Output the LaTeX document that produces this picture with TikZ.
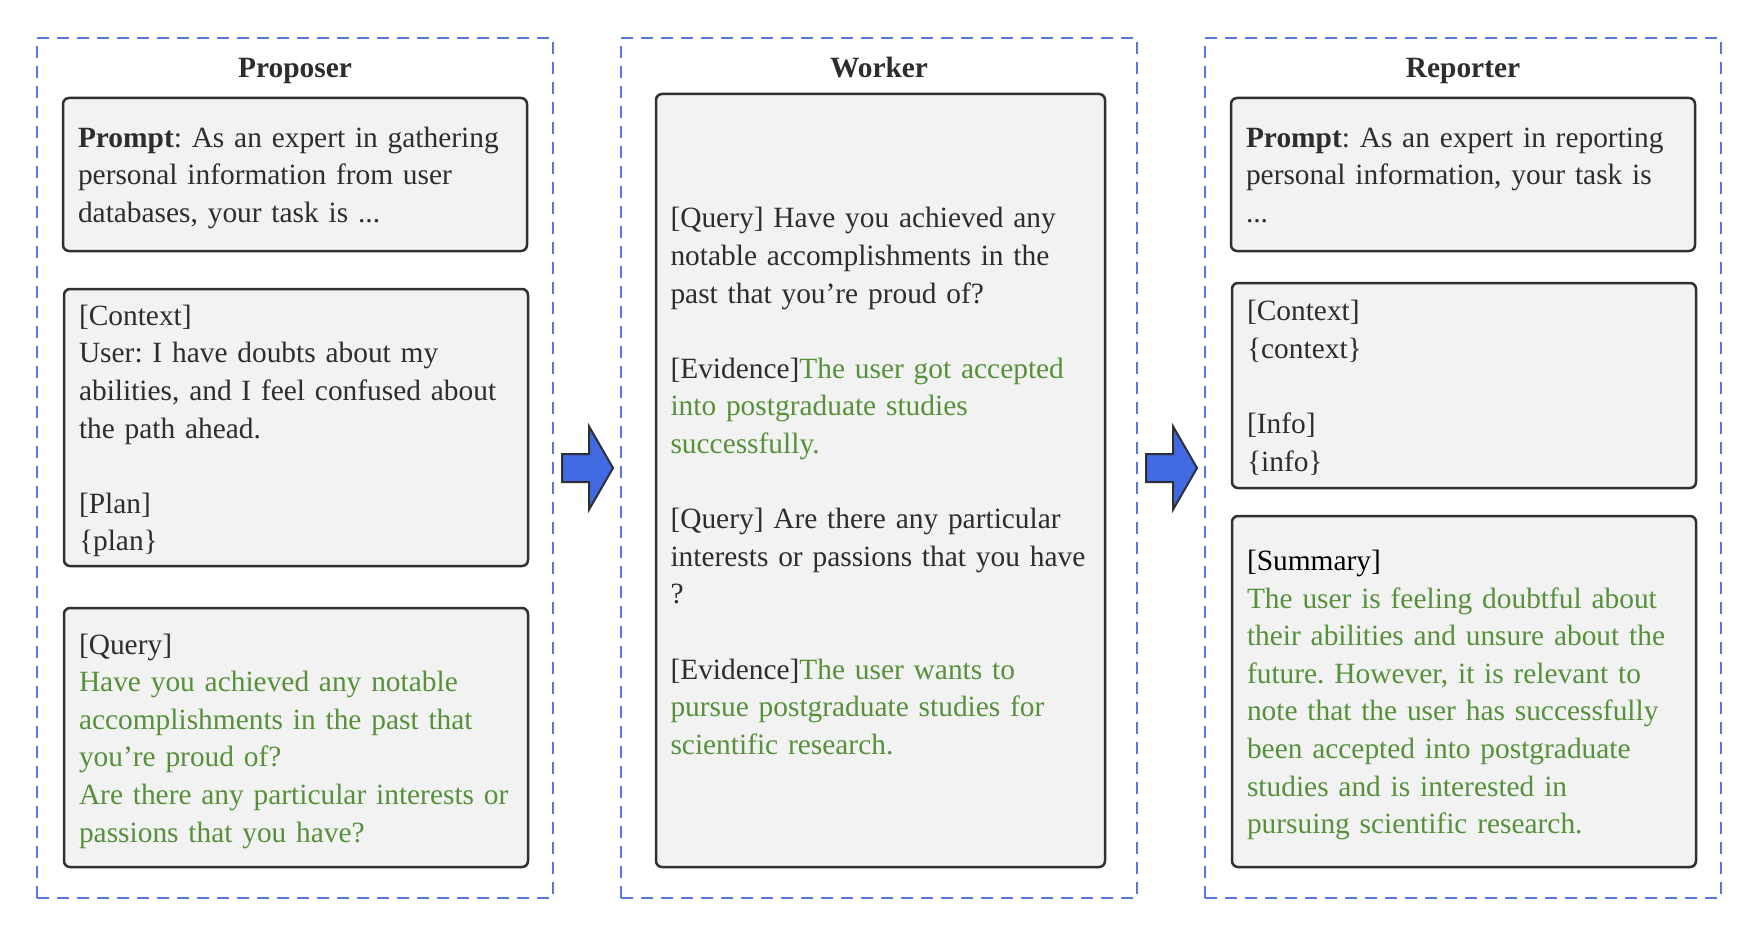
\documentclass[tikz,border=0pt]{standalone}
\usepackage{fontspec}
\setmainfont{Liberation Serif}
\usetikzlibrary{positioning, calc, shapes.arrows}

\definecolor{frameblue}{RGB}{85,120,222}
\definecolor{boxfill}{RGB}{242,242,242}
\definecolor{boxline}{RGB}{45,48,52}
\definecolor{txtgray}{RGB}{45,45,45}
\definecolor{evgreen}{RGB}{86,145,58}
\definecolor{arrowblue}{RGB}{65,105,225}

\newcommand{\cardfont}{\fontsize{29.4pt}{37.6pt}\selectfont\frenchspacing\hyphenpenalty=10000\relax}

\tikzset{
    stage/.style={draw=frameblue, line width=2.2pt, dash pattern=on 12pt off 8pt,
        minimum width=516pt, minimum height=860pt},
    stagetitle/.style={font=\fontsize{29.4pt}{36pt}\selectfont\bfseries, text=txtgray,
        anchor=base},
    card/.style={draw=boxline, fill=boxfill, line width=2.5pt, rounded corners=6pt,
        text=txtgray, align=left, inner xsep=15pt, inner ysep=2pt, text width=434pt,
        minimum width=464pt, font=\cardfont,
        execute at begin node={\rule{0pt}{28pt}},
        execute at end node={\rule[-7pt]{0pt}{7pt}}},
    bigarrow/.style={single arrow, draw=boxline, fill=arrowblue, line width=2pt,
        inner sep=13pt, single arrow head extend=27.5pt, single arrow tip angle=120,
        minimum height=51pt, xshift=-3.5pt},
}

\begin{document}
\begin{tikzpicture}[x=1pt, y=-1pt]
    \useasboundingbox (0,0) rectangle (1758,936);

    % three stages
    \node[stage] (propFrame) at (295,468) {};
    \node[stage] (workFrame) at (879,468) {};
    \node[stage] (repFrame) at (1463,468) {};

    \node[stagetitle] (propTitle) at (295,78) {Proposer};
    \node[stagetitle] (workTitle) at (879,78) {Worker};
    \node[stagetitle] (repTitle) at (1463,78) {Reporter};

    % proposer
    \node[card, minimum height=153pt] (propPrompt) at (295,174.5)
        {\textbf{Prompt}: As an expert in gathering\\
         personal information from user\\
         databases, your task is ...};
    \node[card, minimum height=277pt] (propContext) at (296,427.5)
        {[Context]\\
         User: I have doubts about my\\
         abilities, and I feel confused about\\
         the path ahead.\\[37.6pt]
         [Plan]\\
         \{plan\}};
    \node[card, minimum height=259pt] (propQuery) at (296,737.5)
        {[Query]\\
         {\color{evgreen}Have you achieved any notable\\
         accomplishments in the past that\\
         you're proud of?\\
         Are there any particular interests or\\
         passions that you have?}};

    % worker
    \node[card, text width=420pt, inner xsep=14.5pt, minimum width=449pt,
        minimum height=773pt] (workLog) at (880.5,480.5)
        {[Query] Have you achieved any\\
         notable accomplishments in the\\
         past that you're proud of?\\[37.6pt]
         [Evidence]{\color{evgreen}The user got accepted\\
         into postgraduate studies\\
         successfully.}\\[37.6pt]
         [Query] Are there any particular\\
         interests or passions that you have\\
         ?\\[37.6pt]
         [Evidence]{\color{evgreen}The user wants to\\
         pursue postgraduate studies for\\
         scientific research.}};

    % reporter
    \node[card, minimum height=153pt] (repPrompt) at (1463,174.5)
        {\textbf{Prompt}: As an expert in reporting\\
         personal information, your task is\\
         ...};
    \node[card, minimum height=205pt] (repContext) at (1464,385.5)
        {[Context]\\
         \{context\}\\[37.6pt]
         [Info]\\
         \{info\}};
    \node[card, minimum height=351pt] (repSummary) at (1464,691.5)
        {{\color{black}[Summary]}\\
         {\color{evgreen}The user is feeling doubtful about\\
         their abilities and unsure about the\\
         future. However, it is relevant to\\
         note that the user has successfully\\
         been accepted into postgraduate\\
         studies and is interested in\\
         pursuing scientific research.}};

    % arrows between stages
    \node[bigarrow] (arrA) at ($(propFrame.east)!0.5!(workFrame.west)$) {};
    \node[bigarrow] (arrB) at ($(workFrame.east)!0.5!(repFrame.west)$) {};
\end{tikzpicture}
\end{document}
